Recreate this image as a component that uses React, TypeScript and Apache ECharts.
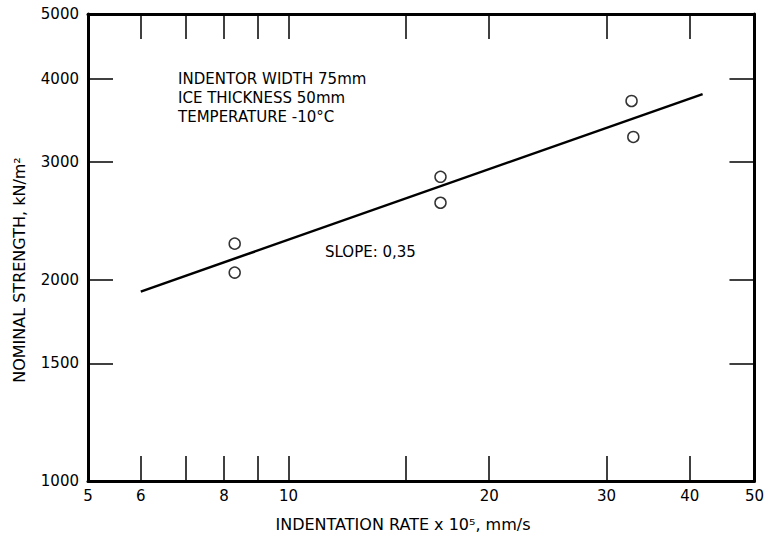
import { useEffect, useRef } from "react";
import * as echarts from "echarts";

// ---- data ----
const xTickValues = [6, 7, 8, 9, 10, 15, 20, 30, 40];
const xLabelValues = [5, 6, 8, 10, 20, 30, 40, 50];
const yTickValues = [1500, 2000, 3000, 4000];
const yLabelValues = [1000, 1500, 2000, 3000, 4000, 5000];
const rates = [8.3, 8.3, 16.9, 16.9, 32.7, 32.9];
const strengths = [2266, 2051, 2853, 2609, 3705, 3273];
const fitRates = [6.0, 41.8];
const fitStrengths = [1921, 3794];
const notes = ["INDENTOR WIDTH 75mm", "ICE THICKNESS 50mm", "TEMPERATURE -10°C"];
const slopeText = "SLOPE: 0,35";
const xTitle = "INDENTATION RATE x 10⁵, mm/s";
const yTitle = "NOMINAL STRENGTH, kN/m²";
const xRange = [5, 50];
const yRange = [1000, 5000];

const L = Math.log10;
const FONT = "DejaVu Sans";

export default function App() {
  const ref = useRef<HTMLDivElement>(null);
  useEffect(() => {
    if (!ref.current) return;
    const chart = echarts.init(ref.current, undefined, { renderer: "svg" });
    const fmt = (v: number) => String(Math.round(Math.pow(10, v)));
    const lineStyle = { color: "#000", width: 3 };
    const tickStyle = { color: "#000", width: 1.5 };
    const labelStyle = { color: "#000", fontSize: 15, fontFamily: FONT };
    const xBase = {
      type: "value",
      min: L(xRange[0]),
      max: L(xRange[1]),
      splitLine: { show: false },
      axisLine: { show: true, onZero: false, lineStyle },
      axisTick: {
        show: true,
        inside: true,
        length: 25,
        customValues: xTickValues.map(L),
        lineStyle: tickStyle,
      },
    };
    const yBase = {
      type: "value",
      min: L(yRange[0]),
      max: L(yRange[1]),
      splitLine: { show: false },
      axisLine: { show: true, onZero: false, lineStyle },
      axisTick: {
        show: true,
        inside: true,
        length: 25,
        customValues: yTickValues.map(L),
        lineStyle: tickStyle,
      },
    };
    chart.setOption({
      animation: false,
      backgroundColor: "#fff",
      textStyle: { fontFamily: FONT, color: "#000" },
      grid: { left: 88, right: 7, top: 14, bottom: 56 },
      xAxis: [
        {
          ...xBase,
          position: "bottom",
          axisLabel: {
            ...labelStyle,
            margin: 7,
            customValues: xLabelValues.map(L),
            formatter: fmt,
          },
        },
        { ...xBase, position: "top", axisLabel: { show: false } },
      ],
      yAxis: [
        {
          ...yBase,
          position: "left",
          axisLabel: {
            ...labelStyle,
            margin: 9,
            customValues: yLabelValues.map(L),
            formatter: fmt,
          },
        },
        { ...yBase, position: "right", axisLabel: { show: false } },
      ],
      series: [
        {
          type: "line",
          data: fitRates.map((r, i) => [L(r), L(fitStrengths[i])]),
          symbol: "none",
          lineStyle: { color: "#000", width: 2.5 },
          z: 2,
        },
        {
          type: "scatter",
          data: rates.map((r, i) => [L(r), L(strengths[i])]),
          symbol: "circle",
          symbolSize: 11,
          itemStyle: { color: "#fff", borderColor: "#000", borderWidth: 1.5 },
          z: 3,
        },
      ],
      graphic: [
        ...notes.map((t, i) => ({
          type: "text",
          x: 178,
          y: 79 + i * 19,
          style: {
            text: t,
            fontSize: 15,
            fontFamily: FONT,
            fill: "#000",
            align: "left",
            verticalAlign: "middle",
          },
        })),
        {
          type: "text",
          x: 325,
          y: 252,
          style: {
            text: slopeText,
            fontSize: 15,
            fontFamily: FONT,
            fill: "#000",
            align: "left",
            verticalAlign: "middle",
          },
        },
        {
          type: "text",
          x: 403,
          y: 524,
          style: {
            text: xTitle,
            fontSize: 16,
            fontFamily: FONT,
            fill: "#000",
            align: "center",
            verticalAlign: "middle",
          },
        },
        {
          type: "text",
          x: 19,
          y: 270,
          rotation: Math.PI / 2,
          style: {
            text: yTitle,
            fontSize: 16,
            fontFamily: FONT,
            fill: "#000",
            align: "center",
            verticalAlign: "middle",
          },
        },
      ],
    });
    return () => chart.dispose();
  }, []);
  return <div ref={ref} style={{ width: 767, height: 537, position: "absolute", left: 0, top: 0 }} />;
}
